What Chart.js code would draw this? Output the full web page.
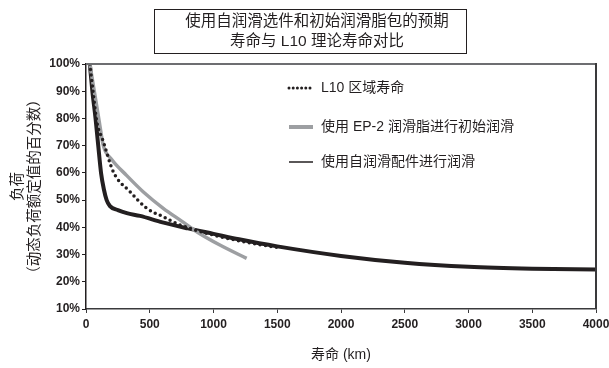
<!DOCTYPE html>
<html>
<head>
<meta charset="utf-8">
<script src="https://cdn.jsdelivr.net/npm/chart.js@4/dist/chart.umd.min.js"></script>
<style>
  html, body { margin: 0; padding: 0; background: #fff; }
  #wrap { width: 609px; height: 368px; }
</style>
</head>
<body>
<div id="wrap"><canvas id="life-chart" width="609" height="368"></canvas></div>
<script>
// datos (km, % de carga)
const seriesLabels = ['L10 区域寿命', '使用 EP-2 润滑脂进行初始润滑', '使用自润滑配件进行润滑'];

const l10Km = [30, 55, 84, 136, 214, 345, 476, 600, 737, 998, 1250, 1500];
const l10Load = [100, 90, 79, 71.5, 60.4, 53.1, 47, 44, 40.9, 37.2, 34.6, 32.6];

const ep2Km = [30, 65, 100, 136, 200, 320, 450, 606, 750, 868, 1050, 1260];
const ep2Load = [100, 90, 80, 70, 65, 59, 53, 47, 42.3, 38.4, 33.5, 28.6];

const selfKm = [30, 50, 75, 96, 118, 140, 162, 188, 250, 320, 424, 600, 800, 1000, 1200, 1500, 2000, 2500, 3000, 3500, 4000];
const selfLoad = [100, 90, 80, 70, 60, 54, 50, 47.8, 46.3, 45.2, 44.2, 41.8, 39.6, 37.6, 35.6, 33.0, 29.5, 27.0, 25.5, 24.8, 24.5];

const xTicks = [0, 500, 1000, 1500, 2000, 2500, 3000, 3500, 4000];
const yTicks = [10, 20, 30, 40, 50, 60, 70, 80, 90, 100];

const chartTitle = ['使用自润滑选件和初始润滑脂包的预期', '寿命与 L10 理论寿命对比'];
const yTitle = ['负荷', '（动态负荷额定值的百分数）'];
const xTitle = '寿命 (km)';

function toPoints(xs, ys) {
    return xs.map((x, i) => ({ x: x, y: ys[i] }));
}

const CJK = "'Liberation Sans Narrow', 'Liberation Sans', 'Noto Sans CJK SC', sans-serif";

// caja del titulo, borde superior/derecho y leyenda dentro del grafico
const extras = {
    id: 'extras',
    afterDraw(chart) {
        const ctx = chart.ctx;
        const a = chart.chartArea;
        ctx.save();

        // marco superior y derecho
        ctx.strokeStyle = '#6d6e71';
        ctx.lineWidth = 2;
        ctx.beginPath();
        ctx.moveTo(a.left, a.top);
        ctx.lineTo(a.right, a.top);
        ctx.stroke();
        ctx.strokeStyle = '#3a3a3c';
        ctx.beginPath();
        ctx.moveTo(a.right, a.top - 1);
        ctx.lineTo(a.right, a.bottom);
        ctx.stroke();

        // titulo
        ctx.strokeStyle = '#231f20';
        ctx.lineWidth = 1;
        ctx.strokeRect(154.5, 9.5, 312, 44);
        ctx.fillStyle = '#231f20';
        ctx.font = "15.5px " + CJK;
        ctx.textAlign = 'center';
        ctx.textBaseline = 'middle';
        ctx.fillText(chartTitle[0], 317, 22);
        ctx.fillText(chartTitle[1], 317, 42);

        // leyenda
        ctx.textAlign = 'left';
        ctx.font = "14px " + CJK;
        const rows = [88, 127, 162];
        chart.data.datasets.forEach((ds, i) => {
            const y = rows[i];
            ctx.beginPath();
            ctx.strokeStyle = ds.borderColor;
            if (i === 0) {
                ctx.lineWidth = 3;
                ctx.lineCap = 'round';
                ctx.setLineDash([0, 4.2]);
            } else if (i === 1) {
                ctx.lineWidth = 4;
                ctx.lineCap = 'butt';
                ctx.setLineDash([]);
            } else {
                ctx.lineWidth = 1.5;
                ctx.lineCap = 'butt';
                ctx.setLineDash([]);
            }
            ctx.moveTo(289, y);
            ctx.lineTo(313, y);
            ctx.stroke();
            ctx.setLineDash([]);
            ctx.fillStyle = '#231f20';
            ctx.fillText(ds.label, 321, y);
        });
        ctx.restore();
    }
};

const ctx2 = document.getElementById('life-chart').getContext('2d');
const myChart = new Chart(ctx2, {
    type: 'line',
    data: {
        datasets: [{
            label: seriesLabels[0],
            data: toPoints(l10Km, l10Load),
            borderColor: '#231f20',
            borderWidth: 3.5,
            borderDash: [0, 5.5],
            borderCapStyle: 'round',
            pointRadius: 0,
            cubicInterpolationMode: 'monotone',
            order: 1
        }, {
            label: seriesLabels[1],
            data: toPoints(ep2Km, ep2Load),
            borderColor: '#9d9fa2',
            borderWidth: 3.5,
            pointRadius: 0,
            cubicInterpolationMode: 'monotone',
            order: 2
        }, {
            label: seriesLabels[2],
            data: toPoints(selfKm, selfLoad),
            borderColor: '#231f20',
            borderWidth: 4,
            pointRadius: 0,
            cubicInterpolationMode: 'monotone',
            order: 3
        }]
    },
    options: {
        responsive: false,
        animation: false,
        layout: { padding: { top: 64, right: 13, left: 0, bottom: 0 } },
        plugins: {
            legend: { display: false },
            tooltip: { enabled: false }
        },
        scales: {
            x: {
                type: 'linear',
                min: 0,
                max: 4000,
                afterBuildTicks: (scale) => { scale.ticks = xTicks.map(v => ({ value: v })); },
                afterFit: (scale) => { scale.height = 59; scale.paddingLeft = 0; scale.paddingRight = 0; },
                ticks: {
                    color: '#231f20',
                    font: { size: 12, weight: 'bold', family: "'Liberation Sans', sans-serif" },
                    padding: 4,
                    maxRotation: 0,
                    callback: (v) => String(v)
                },
                grid: { drawOnChartArea: false, tickLength: 4, color: '#3a3a3c', tickWidth: 1 },
                border: { color: '#3a3a3c', width: 1.5 },
                title: {
                    display: true,
                    text: xTitle,
                    color: '#231f20',
                    font: { size: 14, family: CJK },
                    padding: { top: 0, bottom: 4 }
                }
            },
            y: {
                type: 'linear',
                min: 10,
                max: 100,
                afterBuildTicks: (scale) => { scale.ticks = yTicks.map(v => ({ value: v })); },
                afterFit: (scale) => { scale.width = 86; scale.paddingTop = 0; scale.paddingBottom = 0; },
                ticks: {
                    color: '#231f20',
                    font: { size: 12, weight: 'bold', family: "'Liberation Sans', sans-serif" },
                    padding: 2,
                    callback: (v) => v + '%'
                },
                grid: { drawOnChartArea: false, tickLength: 4, color: '#231f20', tickWidth: 1 },
                border: { color: '#231f20', width: 1.5 },
                title: {
                    display: true,
                    text: yTitle,
                    color: '#231f20',
                    font: { size: 14.5, family: CJK },
                    padding: { top: 9, bottom: 0 }
                }
            }
        }
    },
    plugins: [extras]
});
</script>
</body>
</html>
